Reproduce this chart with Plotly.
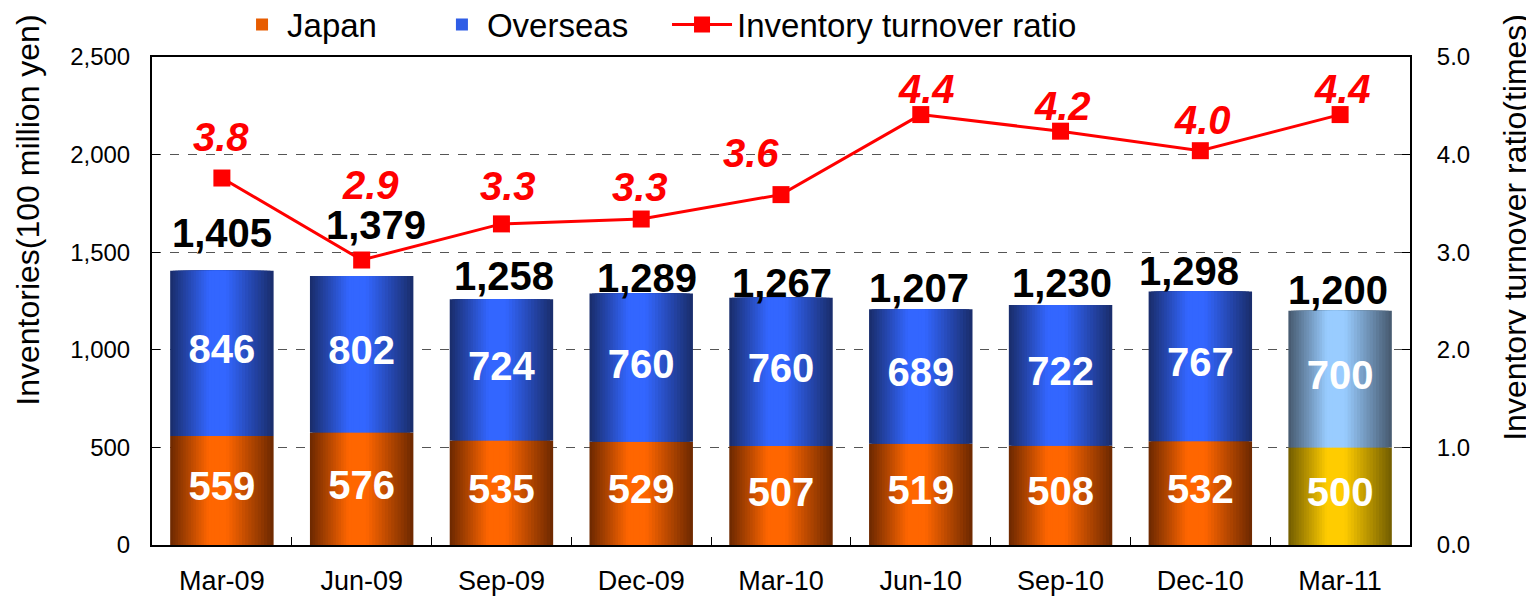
import plotly.graph_objects as go

# ---------------- data ----------------
categories = ["Mar-09", "Jun-09", "Sep-09", "Dec-09", "Mar-10",
              "Jun-10", "Sep-10", "Dec-10", "Mar-11"]
japan = [559, 576, 535, 529, 507, 519, 508, 532, 500]
overseas = [846, 802, 724, 760, 760, 689, 722, 767, 700]
total_labels = ["1,405", "1,379", "1,258", "1,289", "1,267",
                "1,207", "1,230", "1,298", "1,200"]
turnover = [3.76, 2.92, 3.29, 3.34, 3.59, 4.41, 4.24, 4.04, 4.41]
turnover_labels = ["3.8", "2.9", "3.3", "3.3", "3.6", "4.4", "4.2", "4.0", "4.4"]
y_ticks = [0, 500, 1000, 1500, 2000, 2500]
y2_ticks = [0, 1, 2, 3, 4, 5]

# ---------------- style ----------------
FONT = "Liberation Sans, Arial, Helvetica, sans-serif"
J_DARK, J_BRIGHT = (0x70, 0x2A, 0x00), (0xFF, 0x66, 0x00)
O_DARK, O_BRIGHT = (0x1A, 0x2E, 0x6E), (0x33, 0x66, 0xFF)
JL_DARK, JL_BRIGHT = (0x76, 0x60, 0x00), (0xFF, 0xCC, 0x00)
OL_DARK, OL_BRIGHT = (0x48, 0x5C, 0x72), (0x99, 0xCC, 0xFF)
BAR_W = 0.74
PEAK = 0.45
LAYERS = 18
LEGEND_LAYER = 12

total_yshift = [14, 27, -1, -9, -9, -3, -2, -4, -3]
total_xshift = [0, 14, 3, 6, 1, -2, 1, -11, -2]
ratio_yshift = [17, 51, 14, 8, 18, 2, 1, 7, 2]
ratio_xshift = [-1, 9, 7, -1, -30, 6, 2, 2, 2]


def lerp(c1, c2, t):
    return "#%02x%02x%02x" % tuple(int(round(a + (b - a) * t)) for a, b in zip(c1, c2))


n = len(categories)
fig = go.Figure()

for i in range(LAYERS):
    f = i / LAYERS
    t = min(1.0, (i / (LAYERS - 1)) / 0.85)
    width = BAR_W * (1 - f)
    offset = -BAR_W / 2 + f * PEAK * BAR_W
    jc = [lerp(J_DARK, J_BRIGHT, t)] * (n - 1) + [lerp(JL_DARK, JL_BRIGHT, t)]
    oc = [lerp(O_DARK, O_BRIGHT, t)] * (n - 1) + [lerp(OL_DARK, OL_BRIGHT, t)]
    fig.add_trace(go.Bar(
        x=categories, y=japan, width=[width] * n, offset=[offset] * n,
        marker=dict(color=jc, line=dict(width=0)), name="Japan",
        legend="legend", showlegend=(i == LEGEND_LAYER), hoverinfo="skip"))
    fig.add_trace(go.Bar(
        x=categories, y=overseas, base=japan, width=[width] * n, offset=[offset] * n,
        marker=dict(color=oc, line=dict(width=0)), name="Overseas",
        legend="legend2", showlegend=(i == LEGEND_LAYER), hoverinfo="skip"))

# value labels inside bars
fig.add_trace(go.Scatter(
    x=categories, y=[j / 2 for j in japan], mode="text",
    text=[str(v) for v in japan],
    textfont=dict(family=FONT, size=40, color="white", weight="bold"),
    showlegend=False, hoverinfo="skip"))
fig.add_trace(go.Scatter(
    x=categories, y=[j + o / 2 for j, o in zip(japan, overseas)], mode="text",
    text=[str(v) for v in overseas],
    textfont=dict(family=FONT, size=40, color="white", weight="bold"),
    showlegend=False, hoverinfo="skip"))

# turnover line
fig.add_trace(go.Scatter(
    x=categories, y=turnover, yaxis="y2", mode="lines+markers",
    name="Inventory turnover ratio", legend="legend3",
    line=dict(color="#FF0000", width=3),
    marker=dict(symbol="square", size=17, color="#FF0000")))

annotations = []
for i, c in enumerate(categories):
    annotations.append(dict(
        x=c, y=japan[i] + overseas[i], xref="x", yref="y",
        text=total_labels[i], showarrow=False, yanchor="bottom", xanchor="center",
        yshift=total_yshift[i], xshift=total_xshift[i],
        font=dict(family=FONT, size=40, color="black", weight="bold")))
    annotations.append(dict(
        x=c, y=turnover[i], xref="x", yref="y2",
        text=turnover_labels[i], showarrow=False, yanchor="bottom", xanchor="center",
        yshift=ratio_yshift[i], xshift=ratio_xshift[i],
        font=dict(family=FONT, size=40, color="#FF0000", weight="bold", style="italic")))

annotations.append(dict(
    text="Inventories(100 million yen)", xref="paper", yref="paper",
    x=0, y=0.685, xshift=-124, textangle=-90, showarrow=False,
    xanchor="center", yanchor="middle", font=dict(family=FONT, size=32, color="black")))
annotations.append(dict(
    text="Inventory turnover ratio(times)", xref="paper", yref="paper",
    x=1, y=0.65, xshift=105, textangle=-90, showarrow=False,
    xanchor="center", yanchor="middle", font=dict(family=FONT, size=32, color="black")))

LEG_FONT = dict(family=FONT, size=33, color="black")
LEG_Y = 0.972

fig.update_layout(
    width=1526, height=590,
    margin=dict(l=144, r=124, t=49, b=53, autoexpand=False),
    barmode="overlay",
    plot_bgcolor="white", paper_bgcolor="white",
    font=dict(family=FONT, color="black"),
    annotations=annotations,
    legend=dict(x=0.0676, y=LEG_Y, yref="container", xanchor="left", yanchor="middle",
                font=LEG_FONT, bgcolor="rgba(0,0,0,0)", itemwidth=40),
    legend2=dict(x=0.2265, y=LEG_Y, yref="container", xanchor="left", yanchor="middle",
                 font=LEG_FONT, bgcolor="rgba(0,0,0,0)", itemwidth=40),
    legend3=dict(x=0.4094, y=LEG_Y, yref="container", xanchor="left", yanchor="middle",
                 font=LEG_FONT, bgcolor="rgba(0,0,0,0)", itemwidth=60),
    xaxis=dict(type="category", tickson="boundaries", ticks="inside", ticklen=8,
               tickcolor="black", showline=True, linecolor="black", linewidth=2,
               mirror=True, tickfont=dict(size=27), ticklabelstandoff=11,
               range=[-0.5, len(categories) - 0.5], showgrid=False, automargin=False),
    yaxis=dict(range=[0, 2500], tickvals=y_ticks, tickformat=",", ticks="inside",
               ticklen=8, tickcolor="black", showline=True, linecolor="black",
               linewidth=2, mirror=True, showgrid=True, gridcolor="#555555",
               griddash="dash", gridwidth=1, zeroline=False, automargin=False,
               tickfont=dict(size=24), ticklabelstandoff=15),
    yaxis2=dict(overlaying="y", side="right", range=[0, 5], tickvals=y2_ticks,
                tickformat=".1f", ticks="inside", ticklen=8, tickcolor="black",
                showgrid=False, zeroline=False, showline=True, linecolor="black",
                linewidth=2, tickfont=dict(size=24), ticklabelstandoff=20,
                automargin=False),
)

fig.write_html("out.html")
